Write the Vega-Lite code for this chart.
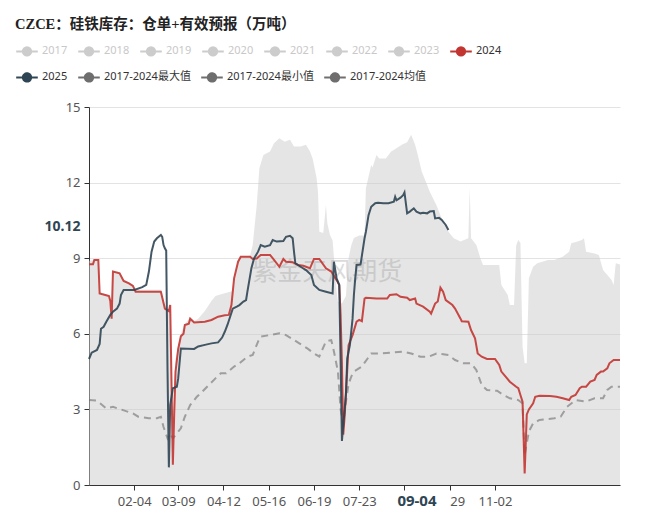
{
  "$schema": "https://vega.github.io/schema/vega-lite/v6.json",
  "width": 531,
  "height": 378,
  "autosize": {"type": "none"},
  "padding": {"left": 89, "top": 107, "right": 34, "bottom": 30},
  "background": "white",
  "config": {"view": {"stroke": null}, "font": "Noto Sans"},
  "title": {
    "text": "CZCE：硅铁库存：仓单+有效预报（万吨）",
    "anchor": "start",
    "frame": "group",
    "dx": -74,
    "font": "Liberation Serif, Noto Sans CJK SC",
    "fontSize": 14.5,
    "fontWeight": "bold",
    "color": "#222222",
    "offset": 10
  },
  "datasets": {
    "lines": [
      {"date":"2025-01-01","v":8.76,"s":"2024"},{"date":"2025-01-04","v":8.76,"s":"2024"},{"date":"2025-01-05","v":8.93,"s":"2024"},{"date":"2025-01-08","v":8.93,"s":"2024"},{"date":"2025-01-09","v":7.6,"s":"2024"},{"date":"2025-01-16","v":7.5,"s":"2024"},{"date":"2025-01-17","v":7.3,"s":"2024"},{"date":"2025-01-18","v":6.6,"s":"2024"},{"date":"2025-01-19","v":8.47,"s":"2024"},{"date":"2025-01-24","v":8.4,"s":"2024"},{"date":"2025-01-27","v":8.1,"s":"2024"},{"date":"2025-01-31","v":8.0,"s":"2024"},{"date":"2025-02-03","v":7.9,"s":"2024"},{"date":"2025-02-05","v":7.67,"s":"2024"},{"date":"2025-02-24","v":7.67,"s":"2024"},{"date":"2025-02-27","v":7.0,"s":"2024"},{"date":"2025-03-02","v":6.9,"s":"2024"},{"date":"2025-03-03","v":7.14,"s":"2024"},{"date":"2025-03-04","v":4.0,"s":"2024"},{"date":"2025-03-05","v":0.8,"s":"2024"},{"date":"2025-03-06","v":2.8,"s":"2024"},{"date":"2025-03-07","v":4.5,"s":"2024"},{"date":"2025-03-09","v":5.4,"s":"2024"},{"date":"2025-03-11","v":5.9,"s":"2024"},{"date":"2025-03-13","v":6.0,"s":"2024"},{"date":"2025-03-14","v":6.35,"s":"2024"},{"date":"2025-03-17","v":6.4,"s":"2024"},{"date":"2025-03-18","v":6.6,"s":"2024"},{"date":"2025-03-21","v":6.45,"s":"2024"},{"date":"2025-03-29","v":6.48,"s":"2024"},{"date":"2025-04-03","v":6.55,"s":"2024"},{"date":"2025-04-08","v":6.68,"s":"2024"},{"date":"2025-04-13","v":6.74,"s":"2024"},{"date":"2025-04-16","v":6.75,"s":"2024"},{"date":"2025-04-18","v":7.14,"s":"2024"},{"date":"2025-04-20","v":8.2,"s":"2024"},{"date":"2025-04-23","v":8.86,"s":"2024"},{"date":"2025-04-25","v":9.06,"s":"2024"},{"date":"2025-05-02","v":9.06,"s":"2024"},{"date":"2025-05-04","v":8.97,"s":"2024"},{"date":"2025-05-07","v":8.99,"s":"2024"},{"date":"2025-05-10","v":9.13,"s":"2024"},{"date":"2025-05-17","v":9.13,"s":"2024"},{"date":"2025-05-20","v":8.93,"s":"2024"},{"date":"2025-05-24","v":8.66,"s":"2024"},{"date":"2025-05-27","v":8.97,"s":"2024"},{"date":"2025-05-29","v":8.86,"s":"2024"},{"date":"2025-06-03","v":8.84,"s":"2024"},{"date":"2025-06-07","v":8.73,"s":"2024"},{"date":"2025-06-11","v":8.7,"s":"2024"},{"date":"2025-06-16","v":8.6,"s":"2024"},{"date":"2025-06-19","v":8.97,"s":"2024"},{"date":"2025-06-23","v":8.97,"s":"2024"},{"date":"2025-06-28","v":8.6,"s":"2024"},{"date":"2025-07-02","v":8.47,"s":"2024"},{"date":"2025-07-06","v":8.13,"s":"2024"},{"date":"2025-07-08","v":7.94,"s":"2024"},{"date":"2025-07-09","v":6.75,"s":"2024"},{"date":"2025-07-10","v":4.83,"s":"2024"},{"date":"2025-07-11","v":2.0,"s":"2024"},{"date":"2025-07-12","v":2.7,"s":"2024"},{"date":"2025-07-14","v":4.56,"s":"2024"},{"date":"2025-07-15","v":5.55,"s":"2024"},{"date":"2025-07-18","v":5.95,"s":"2024"},{"date":"2025-07-21","v":6.48,"s":"2024"},{"date":"2025-07-23","v":6.55,"s":"2024"},{"date":"2025-07-25","v":6.5,"s":"2024"},{"date":"2025-07-27","v":7.4,"s":"2024"},{"date":"2025-07-28","v":7.43,"s":"2024"},{"date":"2025-08-05","v":7.4,"s":"2024"},{"date":"2025-08-13","v":7.4,"s":"2024"},{"date":"2025-08-15","v":7.54,"s":"2024"},{"date":"2025-08-20","v":7.57,"s":"2024"},{"date":"2025-08-23","v":7.47,"s":"2024"},{"date":"2025-08-28","v":7.43,"s":"2024"},{"date":"2025-08-30","v":7.34,"s":"2024"},{"date":"2025-09-03","v":7.4,"s":"2024"},{"date":"2025-09-04","v":7.2,"s":"2024"},{"date":"2025-09-09","v":7.08,"s":"2024"},{"date":"2025-09-14","v":6.88,"s":"2024"},{"date":"2025-09-15","v":6.8,"s":"2024"},{"date":"2025-09-18","v":7.2,"s":"2024"},{"date":"2025-09-20","v":7.28,"s":"2024"},{"date":"2025-09-22","v":7.83,"s":"2024"},{"date":"2025-09-24","v":7.67,"s":"2024"},{"date":"2025-09-26","v":7.34,"s":"2024"},{"date":"2025-10-01","v":7.14,"s":"2024"},{"date":"2025-10-03","v":7.0,"s":"2024"},{"date":"2025-10-07","v":6.61,"s":"2024"},{"date":"2025-10-08","v":6.5,"s":"2024"},{"date":"2025-10-13","v":6.48,"s":"2024"},{"date":"2025-10-15","v":6.15,"s":"2024"},{"date":"2025-10-18","v":5.82,"s":"2024"},{"date":"2025-10-20","v":5.22,"s":"2024"},{"date":"2025-10-23","v":5.09,"s":"2024"},{"date":"2025-10-27","v":5.0,"s":"2024"},{"date":"2025-11-02","v":5.0,"s":"2024"},{"date":"2025-11-04","v":4.76,"s":"2024"},{"date":"2025-11-05","v":4.5,"s":"2024"},{"date":"2025-11-07","v":4.3,"s":"2024"},{"date":"2025-11-09","v":4.1,"s":"2024"},{"date":"2025-11-12","v":3.9,"s":"2024"},{"date":"2025-11-13","v":3.84,"s":"2024"},{"date":"2025-11-14","v":3.57,"s":"2024"},{"date":"2025-11-15","v":3.31,"s":"2024"},{"date":"2025-11-16","v":0.46,"s":"2024"},{"date":"2025-11-17","v":2.8,"s":"2024"},{"date":"2025-11-18","v":3.0,"s":"2024"},{"date":"2025-11-20","v":3.24,"s":"2024"},{"date":"2025-11-21","v":3.5,"s":"2024"},{"date":"2025-11-23","v":3.54,"s":"2024"},{"date":"2025-11-28","v":3.53,"s":"2024"},{"date":"2025-12-01","v":3.5,"s":"2024"},{"date":"2025-12-04","v":3.44,"s":"2024"},{"date":"2025-12-07","v":3.37,"s":"2024"},{"date":"2025-12-08","v":3.5,"s":"2024"},{"date":"2025-12-10","v":3.57,"s":"2024"},{"date":"2025-12-12","v":3.84,"s":"2024"},{"date":"2025-12-13","v":3.9,"s":"2024"},{"date":"2025-12-15","v":3.9,"s":"2024"},{"date":"2025-12-17","v":4.1,"s":"2024"},{"date":"2025-12-19","v":4.17,"s":"2024"},{"date":"2025-12-20","v":4.37,"s":"2024"},{"date":"2025-12-22","v":4.5,"s":"2024"},{"date":"2025-12-23","v":4.5,"s":"2024"},{"date":"2025-12-25","v":4.63,"s":"2024"},{"date":"2025-12-26","v":4.83,"s":"2024"},{"date":"2025-12-28","v":4.96,"s":"2024"},{"date":"2025-12-31","v":4.96,"s":"2024"},
      {"date":"2025-01-01","v":5.0,"s":"2025"},{"date":"2025-01-03","v":5.25,"s":"2025"},{"date":"2025-01-07","v":5.36,"s":"2025"},{"date":"2025-01-09","v":5.6,"s":"2025"},{"date":"2025-01-10","v":6.2,"s":"2025"},{"date":"2025-01-12","v":6.28,"s":"2025"},{"date":"2025-01-14","v":6.48,"s":"2025"},{"date":"2025-01-17","v":6.75,"s":"2025"},{"date":"2025-01-19","v":6.88,"s":"2025"},{"date":"2025-01-22","v":7.0,"s":"2025"},{"date":"2025-01-24","v":7.2,"s":"2025"},{"date":"2025-01-25","v":7.54,"s":"2025"},{"date":"2025-01-27","v":7.74,"s":"2025"},{"date":"2025-02-04","v":7.74,"s":"2025"},{"date":"2025-02-10","v":7.85,"s":"2025"},{"date":"2025-02-13","v":7.94,"s":"2025"},{"date":"2025-02-15","v":8.47,"s":"2025"},{"date":"2025-02-17","v":9.26,"s":"2025"},{"date":"2025-02-19","v":9.66,"s":"2025"},{"date":"2025-02-21","v":9.79,"s":"2025"},{"date":"2025-02-24","v":9.92,"s":"2025"},{"date":"2025-02-25","v":9.85,"s":"2025"},{"date":"2025-02-26","v":9.52,"s":"2025"},{"date":"2025-02-27","v":9.39,"s":"2025"},{"date":"2025-02-28","v":9.3,"s":"2025"},{"date":"2025-03-01","v":4.5,"s":"2025"},{"date":"2025-03-02","v":0.7,"s":"2025"},{"date":"2025-03-03","v":3.17,"s":"2025"},{"date":"2025-03-05","v":3.84,"s":"2025"},{"date":"2025-03-08","v":3.9,"s":"2025"},{"date":"2025-03-09","v":4.23,"s":"2025"},{"date":"2025-03-11","v":5.42,"s":"2025"},{"date":"2025-03-21","v":5.4,"s":"2025"},{"date":"2025-03-24","v":5.5,"s":"2025"},{"date":"2025-03-29","v":5.56,"s":"2025"},{"date":"2025-04-03","v":5.62,"s":"2025"},{"date":"2025-04-08","v":5.66,"s":"2025"},{"date":"2025-04-11","v":5.85,"s":"2025"},{"date":"2025-04-13","v":6.08,"s":"2025"},{"date":"2025-04-15","v":6.35,"s":"2025"},{"date":"2025-04-19","v":7.0,"s":"2025"},{"date":"2025-04-22","v":7.08,"s":"2025"},{"date":"2025-04-24","v":7.14,"s":"2025"},{"date":"2025-04-27","v":7.28,"s":"2025"},{"date":"2025-04-29","v":7.34,"s":"2025"},{"date":"2025-04-30","v":7.67,"s":"2025"},{"date":"2025-05-03","v":8.6,"s":"2025"},{"date":"2025-05-05","v":8.99,"s":"2025"},{"date":"2025-05-08","v":9.26,"s":"2025"},{"date":"2025-05-10","v":9.52,"s":"2025"},{"date":"2025-05-13","v":9.46,"s":"2025"},{"date":"2025-05-17","v":9.52,"s":"2025"},{"date":"2025-05-19","v":9.72,"s":"2025"},{"date":"2025-05-22","v":9.66,"s":"2025"},{"date":"2025-05-27","v":9.68,"s":"2025"},{"date":"2025-05-29","v":9.85,"s":"2025"},{"date":"2025-06-01","v":9.89,"s":"2025"},{"date":"2025-06-03","v":9.79,"s":"2025"},{"date":"2025-06-04","v":9.26,"s":"2025"},{"date":"2025-06-05","v":8.8,"s":"2025"},{"date":"2025-06-09","v":8.66,"s":"2025"},{"date":"2025-06-13","v":8.53,"s":"2025"},{"date":"2025-06-17","v":8.33,"s":"2025"},{"date":"2025-06-19","v":7.94,"s":"2025"},{"date":"2025-06-23","v":7.74,"s":"2025"},{"date":"2025-06-28","v":7.67,"s":"2025"},{"date":"2025-07-03","v":7.6,"s":"2025"},{"date":"2025-07-04","v":8.86,"s":"2025"},{"date":"2025-07-06","v":8.2,"s":"2025"},{"date":"2025-07-08","v":7.94,"s":"2025"},{"date":"2025-07-09","v":5.0,"s":"2025"},{"date":"2025-07-10","v":1.75,"s":"2025"},{"date":"2025-07-13","v":3.57,"s":"2025"},{"date":"2025-07-14","v":5.03,"s":"2025"},{"date":"2025-07-16","v":5.56,"s":"2025"},{"date":"2025-07-18","v":6.6,"s":"2025"},{"date":"2025-07-19","v":7.54,"s":"2025"},{"date":"2025-07-20","v":8.2,"s":"2025"},{"date":"2025-07-21","v":8.73,"s":"2025"},{"date":"2025-07-24","v":8.75,"s":"2025"},{"date":"2025-07-27","v":9.79,"s":"2025"},{"date":"2025-07-28","v":10.05,"s":"2025"},{"date":"2025-07-30","v":10.71,"s":"2025"},{"date":"2025-08-01","v":11.04,"s":"2025"},{"date":"2025-08-04","v":11.18,"s":"2025"},{"date":"2025-08-06","v":11.2,"s":"2025"},{"date":"2025-08-10","v":11.18,"s":"2025"},{"date":"2025-08-14","v":11.18,"s":"2025"},{"date":"2025-08-18","v":11.24,"s":"2025"},{"date":"2025-08-19","v":11.44,"s":"2025"},{"date":"2025-08-20","v":11.3,"s":"2025"},{"date":"2025-08-23","v":11.4,"s":"2025"},{"date":"2025-08-25","v":11.5,"s":"2025"},{"date":"2025-08-26","v":11.61,"s":"2025"},{"date":"2025-08-28","v":10.78,"s":"2025"},{"date":"2025-08-30","v":10.85,"s":"2025"},{"date":"2025-09-02","v":10.98,"s":"2025"},{"date":"2025-09-04","v":10.85,"s":"2025"},{"date":"2025-09-07","v":10.78,"s":"2025"},{"date":"2025-09-09","v":10.8,"s":"2025"},{"date":"2025-09-12","v":10.78,"s":"2025"},{"date":"2025-09-14","v":10.85,"s":"2025"},{"date":"2025-09-17","v":10.87,"s":"2025"},{"date":"2025-09-18","v":10.58,"s":"2025"},{"date":"2025-09-21","v":10.6,"s":"2025"},{"date":"2025-09-23","v":10.52,"s":"2025"},{"date":"2025-09-26","v":10.32,"s":"2025"},{"date":"2025-09-28","v":10.12,"s":"2025"}
    ],
    "mean": [
      {"date":"2025-01-01","v":3.37},{"date":"2025-01-07","v":3.35},{"date":"2025-01-14","v":3.04},{"date":"2025-01-19","v":3.1},{"date":"2025-01-26","v":2.98},{"date":"2025-02-03","v":2.84},{"date":"2025-02-07","v":2.71},{"date":"2025-02-15","v":2.65},{"date":"2025-02-21","v":2.65},{"date":"2025-02-24","v":2.71},{"date":"2025-02-26","v":2.3},{"date":"2025-03-01","v":1.85},{"date":"2025-03-03","v":2.05},{"date":"2025-03-05","v":1.85},{"date":"2025-03-11","v":2.25},{"date":"2025-03-14","v":2.71},{"date":"2025-03-18","v":3.17},{"date":"2025-03-23","v":3.5},{"date":"2025-03-27","v":3.7},{"date":"2025-04-01","v":3.97},{"date":"2025-04-06","v":4.23},{"date":"2025-04-10","v":4.43},{"date":"2025-04-14","v":4.43},{"date":"2025-04-20","v":4.7},{"date":"2025-04-24","v":4.83},{"date":"2025-04-30","v":5.09},{"date":"2025-05-04","v":5.16},{"date":"2025-05-08","v":5.69},{"date":"2025-05-10","v":5.89},{"date":"2025-05-17","v":5.95},{"date":"2025-05-24","v":6.02},{"date":"2025-05-29","v":5.95},{"date":"2025-06-02","v":5.82},{"date":"2025-06-08","v":5.62},{"date":"2025-06-14","v":5.42},{"date":"2025-06-19","v":5.22},{"date":"2025-06-23","v":5.1},{"date":"2025-06-28","v":5.7},{"date":"2025-07-02","v":5.75},{"date":"2025-07-04","v":5.3},{"date":"2025-07-07","v":4.5},{"date":"2025-07-09","v":3.0},{"date":"2025-07-11","v":2.4},{"date":"2025-07-13","v":3.3},{"date":"2025-07-15","v":4.0},{"date":"2025-07-17","v":4.3},{"date":"2025-07-19","v":4.5},{"date":"2025-07-25","v":4.7},{"date":"2025-08-01","v":5.22},{"date":"2025-08-07","v":5.22},{"date":"2025-08-15","v":5.25},{"date":"2025-08-25","v":5.29},{"date":"2025-08-31","v":5.22},{"date":"2025-09-07","v":5.09},{"date":"2025-09-13","v":5.09},{"date":"2025-09-19","v":5.22},{"date":"2025-09-28","v":5.16},{"date":"2025-10-03","v":4.96},{"date":"2025-10-09","v":4.83},{"date":"2025-10-15","v":4.83},{"date":"2025-10-19","v":4.56},{"date":"2025-10-23","v":3.97},{"date":"2025-10-27","v":3.77},{"date":"2025-11-01","v":3.74},{"date":"2025-11-03","v":3.74},{"date":"2025-11-06","v":3.57},{"date":"2025-11-09","v":3.44},{"date":"2025-11-13","v":3.37},{"date":"2025-11-15","v":3.24},{"date":"2025-11-16","v":1.19},{"date":"2025-11-18","v":2.12},{"date":"2025-11-20","v":2.45},{"date":"2025-11-23","v":2.58},{"date":"2025-11-30","v":2.65},{"date":"2025-12-03","v":2.71},{"date":"2025-12-06","v":3.1},{"date":"2025-12-10","v":3.37},{"date":"2025-12-15","v":3.31},{"date":"2025-12-19","v":3.44},{"date":"2025-12-23","v":3.44},{"date":"2025-12-25","v":3.77},{"date":"2025-12-27","v":3.9},{"date":"2025-12-31","v":3.9}
    ],
    "max": [
      {"date":"2025-01-01","v":8.9},{"date":"2025-01-08","v":8.95},{"date":"2025-01-09","v":7.65},{"date":"2025-01-16","v":7.55},{"date":"2025-01-17","v":7.35},{"date":"2025-01-18","v":6.7},{"date":"2025-01-19","v":8.5},{"date":"2025-01-24","v":8.45},{"date":"2025-01-27","v":8.15},{"date":"2025-01-31","v":8.05},{"date":"2025-02-03","v":7.95},{"date":"2025-02-05","v":7.75},{"date":"2025-02-24","v":7.75},{"date":"2025-02-27","v":7.05},{"date":"2025-03-02","v":6.95},{"date":"2025-03-03","v":7.2},{"date":"2025-03-04","v":4.5},{"date":"2025-03-05","v":2.8},{"date":"2025-03-07","v":5.0},{"date":"2025-03-09","v":5.5},{"date":"2025-03-11","v":6.0},{"date":"2025-03-14","v":6.4},{"date":"2025-03-18","v":6.65},{"date":"2025-03-21","v":6.5},{"date":"2025-03-24","v":6.6},{"date":"2025-03-29","v":6.9},{"date":"2025-04-03","v":7.3},{"date":"2025-04-06","v":7.5},{"date":"2025-04-09","v":7.55},{"date":"2025-04-17","v":7.67},{"date":"2025-04-19","v":7.7},{"date":"2025-04-20","v":8.2},{"date":"2025-04-23","v":8.86},{"date":"2025-04-25","v":9.06},{"date":"2025-05-02","v":9.1},{"date":"2025-05-04","v":9.52},{"date":"2025-05-07","v":11.1},{"date":"2025-05-09","v":12.57},{"date":"2025-05-12","v":13.1},{"date":"2025-05-17","v":13.23},{"date":"2025-05-20","v":13.56},{"date":"2025-05-24","v":13.76},{"date":"2025-05-28","v":13.62},{"date":"2025-06-01","v":13.7},{"date":"2025-06-04","v":13.43},{"date":"2025-06-09","v":13.43},{"date":"2025-06-13","v":13.5},{"date":"2025-06-16","v":13.23},{"date":"2025-06-18","v":12.96},{"date":"2025-06-21","v":12.17},{"date":"2025-06-22","v":11.64},{"date":"2025-06-23","v":10.05},{"date":"2025-06-26","v":10.0},{"date":"2025-06-28","v":11.1},{"date":"2025-06-29","v":10.4},{"date":"2025-07-01","v":9.92},{"date":"2025-07-03","v":9.7},{"date":"2025-07-06","v":7.67},{"date":"2025-07-07","v":7.28},{"date":"2025-07-10","v":7.2},{"date":"2025-07-13","v":7.5},{"date":"2025-07-15","v":9.0},{"date":"2025-07-17","v":9.5},{"date":"2025-07-19","v":9.8},{"date":"2025-07-23","v":9.9},{"date":"2025-07-27","v":9.9},{"date":"2025-07-28","v":11.77},{"date":"2025-08-01","v":12.7},{"date":"2025-08-02","v":12.6},{"date":"2025-08-05","v":13.1},{"date":"2025-08-07","v":12.96},{"date":"2025-08-12","v":12.96},{"date":"2025-08-16","v":13.23},{"date":"2025-08-20","v":13.36},{"date":"2025-08-24","v":13.5},{"date":"2025-08-28","v":13.6},{"date":"2025-08-30","v":13.8},{"date":"2025-08-31","v":13.9},{"date":"2025-09-03","v":13.5},{"date":"2025-09-05","v":13.1},{"date":"2025-09-08","v":12.43},{"date":"2025-09-11","v":12.04},{"date":"2025-09-14","v":11.64},{"date":"2025-09-19","v":11.1},{"date":"2025-09-23","v":10.58},{"date":"2025-09-28","v":10.05},{"date":"2025-10-02","v":9.79},{"date":"2025-10-07","v":9.66},{"date":"2025-10-13","v":9.79},{"date":"2025-10-14","v":11.77},{"date":"2025-10-15","v":9.79},{"date":"2025-10-19","v":9.52},{"date":"2025-10-22","v":9.0},{"date":"2025-10-24","v":8.73},{"date":"2025-11-01","v":8.73},{"date":"2025-11-04","v":8.73},{"date":"2025-11-05","v":7.94},{"date":"2025-11-08","v":7.54},{"date":"2025-11-09","v":7.14},{"date":"2025-11-11","v":7.14},{"date":"2025-11-12","v":9.5},{"date":"2025-11-13","v":9.72},{"date":"2025-11-14","v":9.6},{"date":"2025-11-15","v":5.5},{"date":"2025-11-16","v":4.83},{"date":"2025-11-17","v":4.83},{"date":"2025-11-18","v":8.2},{"date":"2025-11-20","v":8.66},{"date":"2025-11-22","v":8.8},{"date":"2025-11-27","v":8.93},{"date":"2025-11-30","v":8.93},{"date":"2025-12-04","v":9.06},{"date":"2025-12-07","v":9.26},{"date":"2025-12-08","v":9.59},{"date":"2025-12-11","v":9.66},{"date":"2025-12-13","v":9.72},{"date":"2025-12-14","v":9.79},{"date":"2025-12-15","v":9.26},{"date":"2025-12-19","v":9.19},{"date":"2025-12-21","v":9.13},{"date":"2025-12-23","v":8.53},{"date":"2025-12-25","v":8.33},{"date":"2025-12-27","v":8.13},{"date":"2025-12-28","v":7.94},{"date":"2025-12-29","v":8.8},{"date":"2025-12-31","v":8.75}
    ],
    "mark": [
      {"date":"2025-06-29","v":8.45,"t":"紫金天风期货"}
    ]
  },
  "resolve": {"axis": {"x": "independent", "y": "independent"}},
  "layer": [
    {
      "data": {"name": "max"},
      "mark": {"type": "area", "color": "#cccccc", "opacity": 0.5},
      "encoding": {
        "x": {
          "field": "date", "type": "temporal",
          "scale": {"type": "utc", "domain": {"expr": "[utc(2025,0,1), utc(2025,10,2), utc(2025,11,31)]"}, "range": [0, 406, 531], "nice": false},
          "axis": {
            "title": null,
            "values": [{"year":2025,"month":2,"date":4,"utc":true},{"year":2025,"month":3,"date":9,"utc":true},{"year":2025,"month":4,"date":12,"utc":true},{"year":2025,"month":5,"date":16,"utc":true},{"year":2025,"month":6,"date":19,"utc":true},{"year":2025,"month":7,"date":23,"utc":true},{"year":2025,"month":8,"date":26,"utc":true},{"year":2025,"month":9,"date":29,"utc":true},{"year":2025,"month":11,"date":2,"utc":true}],
            "format": "%m-%d",
            "labelExpr": "datum.label == '08-26' ? '' : (datum.label == '09-29' ? '29' : datum.label)",
            "labelAlign": {"condition": {"test": "utcmonth(datum.value) == 8 && utcdate(datum.value) == 29", "value": "left"}, "value": "center"},
            "grid": false,
            "domainColor": "#333333",
            "tickColor": "#333333",
            "tickSize": 5,
            "labelColor": "#555555",
            "labelFontSize": 13,
            "labelPadding": 5,
            "labelOverlap": false,
            "labelFlush": false
          }
        },
        "y": {
          "field": "v", "type": "quantitative",
          "scale": {"domain": [0, 15], "nice": false},
          "axis": {
            "title": null,
            "values": [0, 3, 6, 9, 12, 15],
            "grid": true,
            "gridColor": "#e3e3e3",
            "domainColor": "#333333",
            "tickColor": "#333333",
            "tickSize": 5,
            "labelColor": "#555555",
            "labelFontSize": 13,
            "labelPadding": 4
          }
        }
      }
    },
    {
      "data": {"name": "mark"},
      "mark": {"type": "text", "fontSize": 25, "font": "Noto Sans CJK SC", "color": "#999999", "opacity": 0.35},
      "encoding": {
        "x": {"field": "date", "type": "temporal", "scale": {"type": "utc", "domain": {"expr": "[utc(2025,0,1), utc(2025,10,2), utc(2025,11,31)]"}, "range": [0, 406, 531], "nice": false}, "axis": null},
        "y": {"field": "v", "type": "quantitative", "scale": {"domain": [0, 15], "nice": false}, "axis": null},
        "text": {"field": "t"}
      }
    },
    {
      "data": {"name": "mean"},
      "mark": {"type": "line", "strokeWidth": 2, "opacity": 0.6},
      "encoding": {
        "x": {
          "field": "date", "type": "temporal",
          "scale": {"type": "utc", "domain": {"expr": "[utc(2025,0,1), utc(2025,10,2), utc(2025,11,31)]"}, "range": [0, 406, 531], "nice": false},
          "axis": {"title": null, "orient": "bottom", "values": [{"year":2025,"month":9,"date":4,"utc":true}], "format": "%m-%d", "domain": false, "ticks": false, "grid": false, "labelFontWeight": "bold", "labelFontSize": 15, "labelColor": "#2f4554", "labelPadding": 8, "labelFlush": false, "labelOverlap": false}
        },
        "y": {
          "field": "v", "type": "quantitative",
          "scale": {"domain": [0, 15], "nice": false},
          "axis": {"title": null, "orient": "left", "values": [10.12], "format": ".2f", "domain": false, "ticks": false, "grid": false, "labelFontWeight": "bold", "labelFontSize": 14, "labelColor": "#2f4554", "labelPadding": 9, "labelOffset": -3}
        },
        "strokeDash": {"value": [7, 5]},
        "stroke": {
          "datum": "2017-2024均值", "type": "nominal",
          "scale": {
            "domain": ["2025", "2017-2024最大值", "2017-2024最小值", "2017-2024均值"],
            "range": ["#2f4554", "#6e6e6e", "#6e6e6e", "#6e6e6e"]
          },
          "legend": {
            "title": null,
            "orient": "none",
            "legendX": -71,
            "legendY": -39,
            "direction": "horizontal",
            "padding": 0,
            "symbolType": "M-1.35,0L1.35,0M-0.52,0A0.52,0.52,0,1,1,0.52,0A0.52,0.52,0,1,1,-0.52,0Z",
            "symbolSize": 256,
            "symbolStrokeWidth": 2,
            "symbolDash": [1, 0],
            "symbolOpacity": 1,
            "symbolFillColor": {"expr": "datum.label == '2025' ? '#2f4554' : '#6e6e6e'"},
            "labelFont": "Noto Sans, Noto Sans CJK SC",
            "labelFontSize": 11,
            "labelColor": "#333333",
            "labelOffset": 6,
            "columnPadding": 6,
            "labelLimit": 300
          }
        }
      }
    },
    {
      "data": {"name": "lines"},
      "mark": {"type": "line", "strokeWidth": 2},
      "encoding": {
        "x": {"field": "date", "type": "temporal", "scale": {"type": "utc", "domain": {"expr": "[utc(2025,0,1), utc(2025,10,2), utc(2025,11,31)]"}, "range": [0, 406, 531], "nice": false}, "axis": null},
        "y": {"field": "v", "type": "quantitative", "scale": {"domain": [0, 15], "nice": false}, "axis": null},
        "color": {
          "field": "s", "type": "nominal",
          "scale": {
            "domain": ["2017", "2018", "2019", "2020", "2021", "2022", "2023", "2024", "2025"],
            "range": ["#cccccc", "#cccccc", "#cccccc", "#cccccc", "#cccccc", "#cccccc", "#cccccc", "#c23531", "#2f4554"]
          },
          "legend": {
            "title": null,
            "values": ["2017", "2018", "2019", "2020", "2021", "2022", "2023", "2024"],
            "orient": "none",
            "legendX": -71,
            "legendY": -65,
            "direction": "horizontal",
            "padding": 0,
            "symbolType": "M-1.35,0L1.35,0M-0.52,0A0.52,0.52,0,1,1,0.52,0A0.52,0.52,0,1,1,-0.52,0Z",
            "symbolSize": 256,
            "symbolStrokeWidth": 2,
            "symbolOpacity": 1,
            "symbolFillColor": {"expr": "datum.label == '2024' ? '#c23531' : '#cccccc'"},
            "labelFont": "Noto Sans, Noto Sans CJK SC",
            "labelFontSize": 11,
            "labelOffset": 6,
            "columnPadding": 6,
            "labelLimit": 300,
            "encode": {
              "labels": {"update": {"fill": {"signal": "datum.label == '2024' ? '#333333' : '#c8c8c8'"}}}
            }
          }
        },
        "opacity": {"value": 0.9}
      }
    }
  ]
}
